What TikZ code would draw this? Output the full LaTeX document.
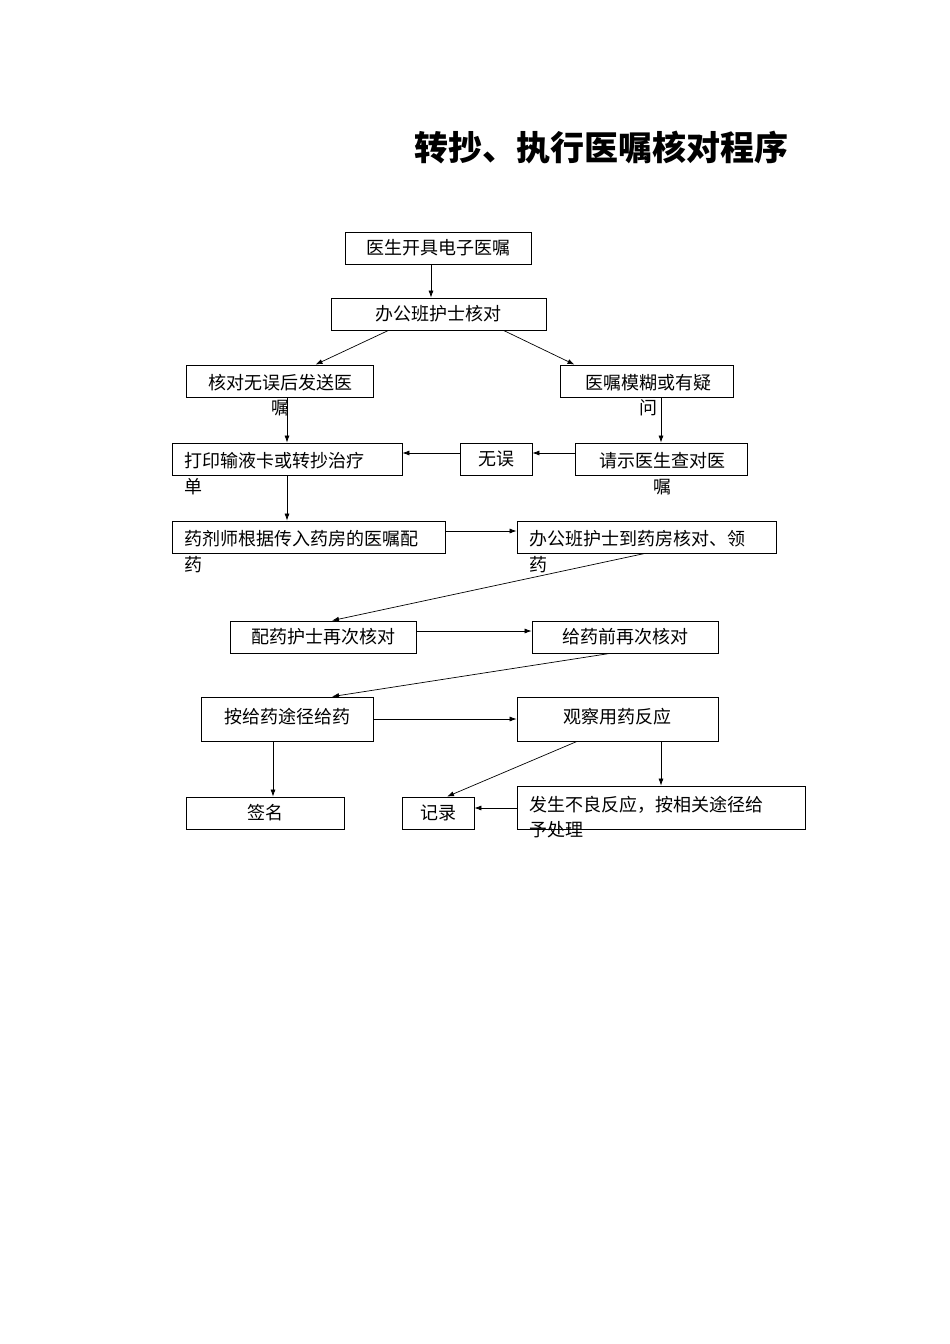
\documentclass[tikz,border=0pt]{standalone}
\usepackage{fontspec}
\setmainfont{Noto Sans CJK SC}
\usetikzlibrary{arrows.meta}
\begin{document}
\begin{tikzpicture}[x=1pt,y=-1pt,
  box/.style={draw,line width=0.8pt,inner sep=0pt,font=\fontsize{18}{22}\selectfont},
  txt/.style={inner sep=0pt,font=\fontsize{18}{22}\selectfont},
  arr/.style={line width=0.7pt,-{Latex[length=7pt,width=5pt]}}]
\useasboundingbox[fill=white] (0,0) rectangle (950,1344);
\node[inner sep=0pt,font=\fontsize{34}{40}\selectfont\bfseries] (title) at (601,148) {转抄、执行医嘱核对程序};
% boxes
\node[box,minimum width=186pt,minimum height=32pt] (b1) at (438,248) {医生开具电子医嘱};
\node[box,minimum width=215pt,minimum height=32pt] (b2) at (438.5,314) {办公班护士核对};
\node[box,minimum width=187pt,minimum height=32pt] (b3) at (279.5,381) {};
\node[box,minimum width=173pt,minimum height=32pt] (b4) at (646.5,381) {};
\node[box,minimum width=230pt,minimum height=32pt] (b5) at (287,459) {};
\node[box,minimum width=72pt,minimum height=32pt] (b6) at (496,459) {无误};
\node[box,minimum width=172pt,minimum height=32pt] (b7) at (661,459) {};
\node[box,minimum width=273pt,minimum height=32pt] (b8) at (308.5,537) {};
\node[box,minimum width=259pt,minimum height=32pt] (b9) at (646.5,537) {};
\node[box,minimum width=186pt,minimum height=32pt] (b10) at (323,637) {配药护士再次核对};
\node[box,minimum width=186pt,minimum height=32pt] (b11) at (625,637) {给药前再次核对};
\node[box,minimum width=172pt,minimum height=44pt] (b12) at (287,719) {};
\node[box,minimum width=201pt,minimum height=44pt] (b13) at (617.5,719) {};
\node[box,minimum width=158pt,minimum height=32pt] (b14) at (265,813) {签名};
\node[box,minimum width=72pt,minimum height=32pt] (b15) at (438,813) {记录};
\node[box,minimum width=288pt,minimum height=43pt] (b16) at (661,807.5) {};
% texts
\node[txt] (t3a) at (280,383) {核对无误后发送医};
\node[txt] (t3b) at (280,408) {嘱};
\node[txt] (t4a) at (648,383) {医嘱模糊或有疑};
\node[txt] (t4b) at (648,408) {问};
\node[txt,anchor=west] (t5a) at (184,461) {打印输液卡或转抄治疗};
\node[txt,anchor=west] (t5b) at (184,487) {单};
\node[txt] (t7a) at (662,461) {请示医生查对医};
\node[txt] (t7b) at (662,487) {嘱};
\node[txt,anchor=west] (t8a) at (184,539) {药剂师根据传入药房的医嘱配};
\node[txt,anchor=west] (t8b) at (184,565) {药};
\node[txt,anchor=west] (t9a) at (529,539) {办公班护士到药房核对、领};
\node[txt,anchor=west] (t9b) at (529,565) {药};
\node[txt] (t12) at (287,717) {按给药途径给药};
\node[txt] (t13) at (617.5,717) {观察用药反应};
\node[txt,anchor=west] (t16a) at (529,805) {发生不良反应，按相关途径给};
\node[txt,anchor=west] (t16b) at (529,830) {予处理};
% arrows
\draw[arr] (b1.south -| 431,0) -- (b2.north -| 431,0);
\draw[arr] ([xshift=-50pt]b2.south) -- ([xshift=36pt]b3.north);
\draw[arr] ([xshift=65pt]b2.south) -- ([xshift=-72pt]b4.north);
\draw[arr] (b3.south -| 287,0) -- (b5.north -| 287,0);
\draw[arr] (b4.south -| 661,0) -- (b7.north -| 661,0);
\draw[arr] (b7.west |- 0,453) -- (b6.east |- 0,453);
\draw[arr] (b6.west |- 0,453) -- (b5.east |- 0,453);
\draw[arr] (b5.south -| 287,0) -- (b8.north -| 287,0);
\draw[arr] (b8.east |- 0,531) -- (b9.west |- 0,531);
\draw[arr] (b9.south -| 645,0) -- (b10.north -| 332,0);
\draw[arr] (b10.east |- 0,631) -- (b11.west |- 0,631);
\draw[arr] (b11.south -| 610,0) -- (b12.north -| 332,0);
\draw[arr] (b12.east |- 0,719) -- (b13.west |- 0,719);
\draw[arr] (b12.south -| 273,0) -- (b14.north -| 273,0);
\draw[arr] (b13.south -| 577,0) -- (b15.north -| 447,0);
\draw[arr] (b13.south -| 661,0) -- (b16.north -| 661,0);
\draw[arr] (b16.west |- 0,808) -- (b15.east |- 0,808);
\end{tikzpicture}
\end{document}
